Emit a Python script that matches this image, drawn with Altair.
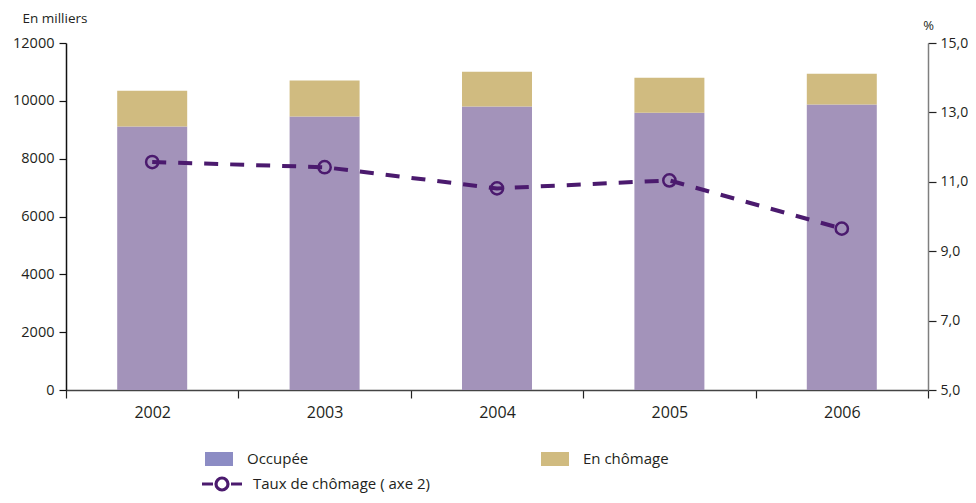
import altair as alt
import pandas as pd

annees = ["2002", "2003", "2004", "2005", "2006"]
occupee = [9110, 9455, 9800, 9590, 9870]
chomage = [1240, 1245, 1210, 1210, 1070]
taux = [11.57, 11.42, 10.81, 11.04, 9.65]

categories = ["Occupée", "En chômage"]
couleurs_barres = ["#a393ba", "#d0bb80"]
couleurs_legende = ["#8c8cc4", "#d0bb80"]
serie_taux = "Taux de chômage ( axe 2)"
couleur_taux = "#4b1a6e"

rows = []
for i, a in enumerate(annees):
    rows.append({"annee": a, "categorie": categories[0], "valeur": occupee[i], "ordre": 0})
    rows.append({"annee": a, "categorie": categories[1], "valeur": chomage[i], "ordre": 1})
df_bar = pd.DataFrame(rows)
df_line = pd.DataFrame({"annee": annees, "taux": taux, "serie": [serie_taux] * len(annees)})

FONT = "Open Sans"
TXT = "#231f20"

x_enc = alt.X(
    "annee:N",
    sort=annees,
    scale=alt.Scale(paddingInner=0, paddingOuter=0),
    axis=alt.Axis(
        title=None, labelAngle=0, labelFontSize=16, labelPadding=6,
        tickSize=8, tickBand="extent", domainColor="#444444", tickColor="#222222",
        domainWidth=1.5, tickWidth=1.2, labelColor=TXT, labelFont=FONT, grid=False,
    ),
)

left_axis = alt.Axis(
    values=[0, 2000, 4000, 6000, 8000, 10000, 12000], format="d",
    labelFontSize=14.5, labelPadding=5, tickSize=7, domainColor="#111111",
    tickColor="#111111", domainWidth=1.5, tickWidth=1.2, grid=False,
    labelColor=TXT, labelFont=FONT,
    title="En milliers", titleAngle=0, titleX=-44, titleY=-25, titleAlign="left",
    titleBaseline="middle", titleFontSize=13.5, titleFontWeight="normal",
    titleColor=TXT, titleFont=FONT,
)

right_axis = alt.Axis(
    orient="right", values=[5, 7, 9, 11, 13, 15],
    labelExpr="replace(format(datum.value, '.1f'), '.', ',')",
    labelFontSize=14, labelPadding=4, tickSize=8, domainColor="#7f7f7f",
    tickColor="#222222", domainWidth=1.5, tickWidth=1.2, grid=False,
    labelColor=TXT, labelFont=FONT,
    title="%", titleAngle=0, titleX=0, titleY=-18, titleAlign="center",
    titleBaseline="middle", titleFontSize=13, titleFontWeight="normal",
    titleColor=TXT, titleFont=FONT,
)

y_bar = alt.Y("valeur:Q", stack="zero", scale=alt.Scale(domain=[0, 12000]), axis=left_axis)

bars = alt.Chart(df_bar).mark_bar(width=alt.RelativeBandSize(0.406)).encode(
    x=x_enc,
    y=y_bar,
    fill=alt.Fill("categorie:N", scale=alt.Scale(domain=categories, range=couleurs_barres), legend=None),
    order=alt.Order("ordre:Q"),
)

ghost = alt.Chart(df_bar).mark_bar(opacity=0, width=alt.RelativeBandSize(0.406)).encode(
    x=x_enc,
    y=y_bar,
    fill=alt.Fill(
        "categorie:N",
        scale=alt.Scale(domain=categories, range=couleurs_legende),
        legend=alt.Legend(
            title=None, orient="none", legendX=139, legendY=402, direction="horizontal",
            columns=2, columnPadding=232, padding=0,
            symbolType="M-1,-0.5H1V0.5H-1Z", symbolSize=784, symbolStrokeWidth=0,
            symbolOpacity=1, labelOffset=14, labelFontSize=15, labelFont=FONT, labelColor=TXT,
            labelLimit=400,
        ),
    ),
    order=alt.Order("ordre:Q"),
)

bar_layer = alt.layer(bars, ghost).resolve_scale(fill="independent")

y_line = alt.Y("taux:Q", scale=alt.Scale(domain=[5, 15]), axis=right_axis)

line = alt.Chart(df_line).mark_line(
    color=couleur_taux, strokeWidth=4, strokeDash=[14, 12], strokeCap="butt"
).encode(x=x_enc, y=y_line)

points = alt.Chart(df_line).mark_point(
    shape="circle", filled=False, size=150, strokeWidth=2.5, opacity=1
).encode(
    x=x_enc,
    y=y_line,
    stroke=alt.Stroke(
        "serie:N",
        scale=alt.Scale(domain=[serie_taux], range=[couleur_taux]),
        legend=alt.Legend(
            title=None, orient="none", legendX=134, legendY=419, padding=0,
            symbolType="M-1,0H-0.45M0.45,0H1M-0.3,0A0.3,0.3,0,1,1,0.3,0A0.3,0.3,0,1,1,-0.3,0",
            symbolSize=1600, symbolStrokeWidth=3.2, symbolFillColor="transparent",
            labelOffset=9, labelFontSize=15, labelFont=FONT, labelColor=TXT,
            labelLimit=400,
        ),
    ),
)

line_layer = alt.layer(line, points)

chart = (
    alt.layer(bar_layer, line_layer)
    .resolve_scale(y="independent")
    .properties(
        width=862, height=347,
        autosize=alt.AutoSizeParams(type="none"),
        padding={"left": 58, "top": 35, "right": 40, "bottom": 105},
    )
    .configure(font=FONT, background="white")
    .configure_view(stroke=None)
    .configure_axis(grid=False)
)

chart.save("out.html", embed_options={"renderer": "svg", "actions": False})
